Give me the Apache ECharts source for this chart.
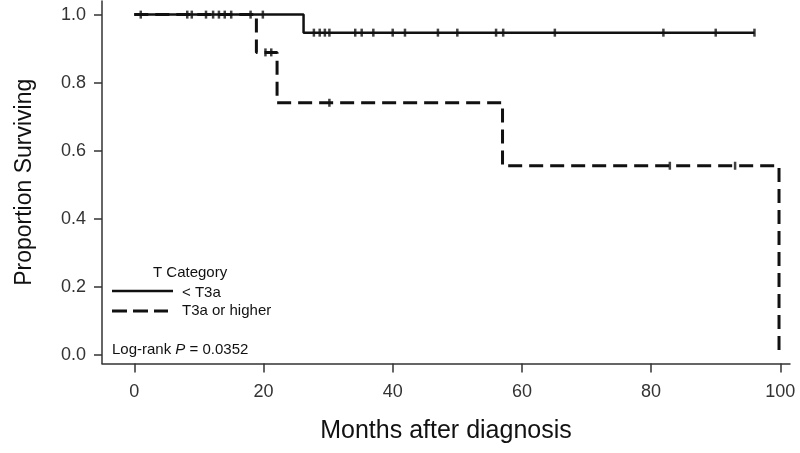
<!DOCTYPE html>
<html>
<head>
<meta charset="utf-8">
<script src="https://cdn.jsdelivr.net/npm/echarts@6/dist/echarts.min.js"></script>
<style>
  html, body { margin: 0; padding: 0; background: #fff; }
  #main { width: 800px; height: 453px; }
</style>
</head>
<body>
<div id="main"></div>
<script>
// < T3a : step points and censored times
var lowTimes = [0, 26.2, 96];
var lowSurv = [1, 0.947, 0.947];
var lowCensorTimes = [1.0, 8.2, 8.9, 11.1, 12.2, 13.1, 14.0, 15.0, 18.0, 19.9,
  27.8, 28.7, 29.5, 30.2, 34.2, 35.2, 37.0, 40.0, 41.9, 47.0, 50.0, 56.0, 57.1, 65.1, 81.9, 90.0, 96.0];
var lowCensorSurv = [1, 1, 1, 1, 1, 1, 1, 1, 1, 1,
  0.947, 0.947, 0.947, 0.947, 0.947, 0.947, 0.947, 0.947, 0.947, 0.947, 0.947, 0.947, 0.947, 0.947, 0.947, 0.947, 0.947];

// T3a or higher
var highTimes = [0, 18.9, 22.1, 57.0, 99.8];
var highSurv = [1, 0.889, 0.741, 0.556, 0];
var highCensorTimes = [20.3, 21.2, 30.2, 82.9, 93.0];
var highCensorSurv = [0.889, 0.889, 0.741, 0.556, 0.556];

var xTicks = [0, 20, 40, 60, 80, 100];
var yTicks = [0, 0.2, 0.4, 0.6, 0.8, 1.0];

function pairs(xs, ys) {
  return xs.map(function (x, i) { return [x, ys[i]]; });
}

var chart = echarts.init(document.getElementById('main'));
chart.setOption({
  animation: false,
  grid: { left: 102, right: 10, top: 1, bottom: 89.5 },
  xAxis: {
    type: 'value',
    min: -5,
    max: 101.5,
    name: 'Months after diagnosis',
    nameLocation: 'middle',
    nameGap: 55,
    nameTextStyle: { fontFamily: 'Liberation Sans', fontSize: 25, color: '#111' },
    axisLine: { onZero: false, lineStyle: { color: '#333', width: 1.5 } },
    axisTick: { show: true, length: 9, customValues: xTicks, lineStyle: { color: '#333', width: 1.5 } },
    axisLabel: { customValues: xTicks, margin: 20, fontSize: 18, color: '#333', fontFamily: 'Liberation Sans' },
    splitLine: { show: false }
  },
  yAxis: {
    type: 'value',
    min: -0.025,
    max: 1.04,
    name: 'Proportion Surviving',
    nameLocation: 'middle',
    nameGap: 66,
    nameRotate: 90,
    nameTextStyle: { fontFamily: 'Liberation Sans', fontSize: 23, color: '#111' },
    axisLine: { show: true, onZero: false, lineStyle: { color: '#333', width: 1.5 } },
    axisTick: { show: true, length: 8, customValues: yTicks, lineStyle: { color: '#333', width: 1.5 } },
    axisLabel: {
      customValues: yTicks, margin: 16, fontSize: 18, color: '#333', fontFamily: 'Liberation Sans',
      formatter: function (v) { return v.toFixed(1); }
    },
    splitLine: { show: false }
  },
  series: [
    {
      name: 'T3a or higher',
      type: 'line',
      step: 'end',
      symbol: 'none',
      data: pairs(highTimes, highSurv),
      lineStyle: { color: '#111', width: 3, type: [14, 7] },
      z: 2
    },
    {
      name: '< T3a',
      type: 'line',
      step: 'end',
      symbol: 'none',
      data: pairs(lowTimes, lowSurv),
      lineStyle: { color: '#111', width: 2.5 },
      z: 3
    },
    {
      type: 'scatter',
      symbol: 'rect',
      symbolSize: [2.5, 8],
      itemStyle: { color: '#111' },
      data: pairs(lowCensorTimes, lowCensorSurv),
      z: 4
    },
    {
      type: 'scatter',
      symbol: 'rect',
      symbolSize: [2.5, 8],
      itemStyle: { color: '#111' },
      data: pairs(highCensorTimes, highCensorSurv),
      z: 4
    }
  ],
  graphic: [
    { type: 'text', left: 153, top: 265, style: { text: 'T Category', font: '15px Liberation Sans', fill: '#111' } },
    { type: 'line', shape: { x1: 112, y1: 291, x2: 173, y2: 291 }, style: { stroke: '#111', lineWidth: 2.5 } },
    { type: 'text', left: 182, top: 285, style: { text: '< T3a', font: '15px Liberation Sans', fill: '#111' } },
    { type: 'line', shape: { x1: 112, y1: 311, x2: 168, y2: 311 }, style: { stroke: '#111', lineWidth: 3, lineDash: [15, 6] } },
    { type: 'text', left: 182, top: 303, style: { text: 'T3a or higher', font: '15px Liberation Sans', fill: '#111' } },
    {
      type: 'text', left: 112, top: 342,
      style: {
        text: '{a|Log-rank }{b|P}{a| = 0.0352}',
        rich: {
          a: { fontSize: 15, fontFamily: 'Liberation Sans', fill: '#111' },
          b: { fontSize: 15, fontFamily: 'Liberation Sans', fontStyle: 'italic', fill: '#111' }
        }
      }
    }
  ]
});
</script>
</body>
</html>
